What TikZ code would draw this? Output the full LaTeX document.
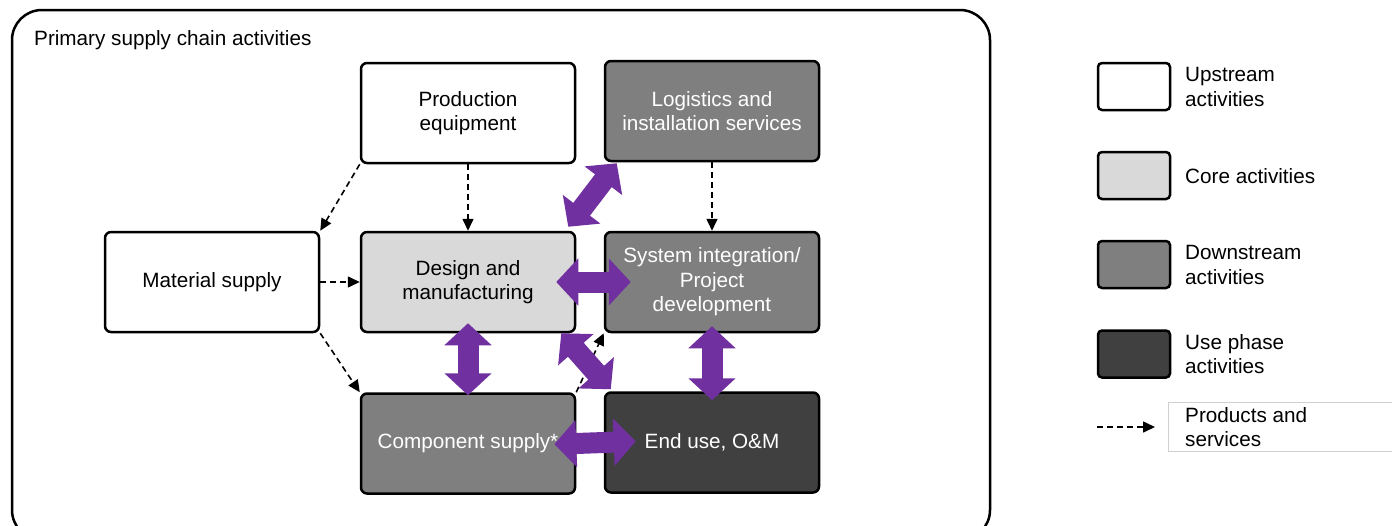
\documentclass[tikz,border=0pt]{standalone}
\usepackage{fontspec}
\setmainfont{Liberation Sans}
\usetikzlibrary{arrows.meta,calc}
\definecolor{core}{HTML}{D9D9D9}
\definecolor{down}{HTML}{7F7F7F}
\definecolor{usep}{HTML}{404040}
\definecolor{flow}{HTML}{7030A0}
\definecolor{frameline}{HTML}{D0D0D0}
\newcommand{\labelfont}{\fontsize{20.7}{24.5}\selectfont}
\tikzset{
  stage/.style={draw=black, line width=2.5pt, rounded corners=6pt,
    minimum width=214pt, minimum height=100pt, inner sep=0pt,
    align=center, font=\labelfont},
  upstream/.style={stage, fill=white, text=black},
  corestage/.style={stage, fill=core, text=black},
  downstage/.style={stage, fill=down, text=white},
  usestage/.style={stage, fill=usep, text=white},
  keybox/.style={draw=black, line width=2.5pt, rounded corners=4pt,
    minimum width=72pt, minimum height=47pt, inner sep=0pt},
  keytext/.style={anchor=west, align=left, inner sep=0pt, font=\labelfont},
  goods/.style={draw=black, line width=1.6pt, dash pattern=on 6pt off 4pt,
    -{Triangle[length=12pt,width=11pt]}},
  exchange/.style={draw=flow, line width=21pt,
    {Triangle[length=22pt,width=46pt]}-{Triangle[length=22pt,width=46pt]}},
}
\begin{document}
\begin{tikzpicture}[x=1pt, y=-1pt]
\useasboundingbox (0,0) rectangle (1392,525);
\begin{scope}
\clip (0,0) rectangle (1392,525);
\draw[line width=2.5pt, rounded corners=30pt] (12,10) rectangle (990,540);
\end{scope}
\node[anchor=west, inner sep=0pt, font=\labelfont] (title) at (34,40) {Primary supply chain activities};

% stages of the chain
\node[upstream]  (prod)  at (468,113) {Production\\equipment};
\node[downstage] (logi)  at (712,111) {Logistics and\\installation services};
\node[upstream]  (mat)   at (212,282) {Material supply};
\node[corestage] (design) at (468,282) {Design and\\manufacturing};
\node[downstage] (sysint) at (712,282) {System integration/\\Project\\development};
\node[downstage] (comp)  at (468,443.5) {Component supply*};
\node[usestage]  (enduse) at (712,442.5) {End use, O\&M};

% flows of products and services
\draw[goods] (prod.south west) -- (mat.north east);
\draw[goods] (prod.south) -- (design.north);
\draw[goods] (mat.east) -- (design.west);
\draw[goods] (mat.south east) -- (comp.north west);
\draw[goods] (logi.south) -- (sysint.north);
\draw[goods] (comp.north east) -- (sysint.south west);

% two-way exchanges
\coordinate (dl1) at ($(design.north east)+(-8,-4)$);
\coordinate (dl2) at ($(logi.south west)+(13,1)$);
\coordinate (de1) at ($(design.south east)+(-15,0)$);
\coordinate (de2) at ($(enduse.north west)+(7,-2)$);
\draw[exchange] (dl1) -- (dl2);
\draw[exchange, shorten <=-20pt, shorten >=-27pt] (design.east) -- (sysint.west);
\draw[exchange, shorten <=-10pt, shorten >=-3pt] (design.south) -- (comp.north);
\draw[exchange] (de1) -- (de2);
\draw[exchange, shorten <=-7pt, shorten >=-9pt] (sysint.south) -- (enduse.north);
\draw[exchange, shorten <=-22pt, shorten >=-32pt] (comp.east) -- (enduse.west);

% key
\node[keybox, fill=white] (k1) at (1134,86.5) {};
\node[keytext] (t1) at (1185,87) {Upstream\\activities};
\node[keybox, fill=core] (k2) at (1134,175.5) {};
\node[keytext] (t2) at (1185,176) {Core activities};
\node[keybox, fill=down] (k3) at (1134,264.5) {};
\node[keytext] (t3) at (1185,265) {Downstream\\activities};
\node[keybox, fill=usep] (k4) at (1134,354) {};
\node[keytext] (t4) at (1185,354) {Use phase\\activities};
\node[draw=frameline, line width=0.8pt, minimum width=230pt, minimum height=49pt,
  inner sep=0pt, anchor=north west] (k5) at (1168,402) {};
\node[keytext] (t5) at (1185,427) {Products and\\services};
\coordinate (g1) at (1097,427);
\coordinate (g2) at (1155,427);
\draw[goods] (g1) -- (g2);
\end{tikzpicture}
\end{document}
